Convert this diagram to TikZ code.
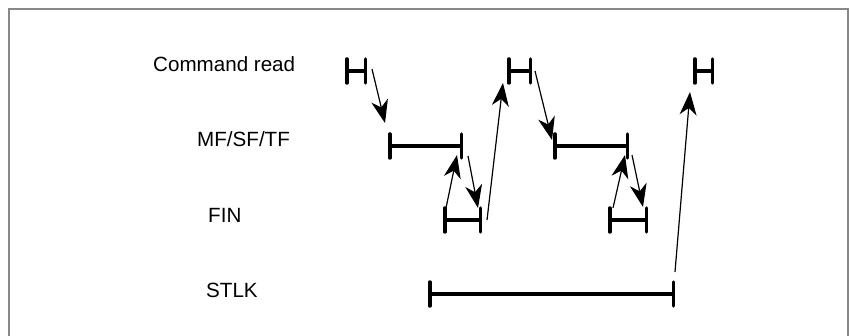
\documentclass[tikz,border=0pt]{standalone}
\usepackage{fontspec}
\setmainfont{Liberation Sans}
\usetikzlibrary{arrows.meta}
\definecolor{clrFrame}{HTML}{888888}

\begin{document}
\begin{tikzpicture}[
    x=1pt, y=-1pt,
    frame/.style={draw=clrFrame, line width=2pt},
    sig/.style={anchor=base west, inner sep=0pt, font=\fontsize{20.6}{24}\selectfont},
    span/.style={{Bar[width=24pt, round]}-{Bar[width=24pt, round]}, line width=3.5pt},
    arrow/.style={-{Stealth[length=23pt, width=17pt, inset=7pt]}, line width=1.2pt},
]
\useasboundingbox (0,0) rectangle (850,336);

% === Frame (open at the bottom) ===
\draw[frame] (9,336) -- (9,9.5) -- (848,9.5) -- (848,336);

% === Signal names ===
\node[sig] (cmd) at (153,72) {Command read};
\node[sig] (mf) at (197,147) {MF/SF/TF};
\node[sig] (fin) at (208,223) {FIN};
\node[sig] (stlk) at (206,297) {STLK};

% === Time spans ===
\coordinate (cr1a) at (345,71);  \coordinate (cr1b) at (367,71);
\coordinate (cr2a) at (507,71);  \coordinate (cr2b) at (532,71);
\coordinate (cr3a) at (693,71);  \coordinate (cr3b) at (714,71);
\coordinate (mf1a) at (388,146); \coordinate (mf1b) at (463,146);
\coordinate (mf2a) at (553,146); \coordinate (mf2b) at (629,146);
\coordinate (fin1a) at (443,220); \coordinate (fin1b) at (482,220);
\coordinate (fin2a) at (608,220); \coordinate (fin2b) at (648,220);
\coordinate (stlka) at (428,294); \coordinate (stlkb) at (675,294);

\draw[span] (cr1a) -- (cr1b);
\draw[span] (cr2a) -- (cr2b);
\draw[span] (cr3a) -- (cr3b);
\draw[span] (mf1a) -- (mf1b);
\draw[span] (mf2a) -- (mf2b);
\draw[span] (fin1a) -- (fin1b);
\draw[span] (fin2a) -- (fin2b);
\draw[span] (stlka) -- (stlkb);

% === Handshake arrows ===
\draw[arrow] ([xshift=5pt, yshift=2pt]cr1b) -- ([xshift=-3pt, yshift=23pt]mf1a);
\draw[arrow] ([xshift=3pt, yshift=12pt]fin1a) -- ([xshift=-6pt, yshift=-9pt]mf1b);
\draw[arrow] ([xshift=5pt, yshift=-10pt]mf1b) -- ([xshift=-4pt, yshift=12pt]fin1b);
\draw[arrow] ([xshift=5pt, yshift=0pt]fin1b) -- ([xshift=-4pt, yshift=-12pt]cr2a);
\draw[arrow] ([xshift=3pt, yshift=0pt]cr2b) -- ([xshift=-1pt, yshift=6pt]mf2a);
\draw[arrow] ([xshift=5pt, yshift=12pt]fin2a) -- ([xshift=-4pt, yshift=-9pt]mf2b);
\draw[arrow] ([xshift=3pt, yshift=-9pt]mf2b) -- ([xshift=-5pt, yshift=13pt]fin2b);
\draw[arrow] ([xshift=0pt, yshift=22pt]stlkb) -- ([xshift=-3pt, yshift=-21pt]cr3a);

\end{tikzpicture}
\end{document}
